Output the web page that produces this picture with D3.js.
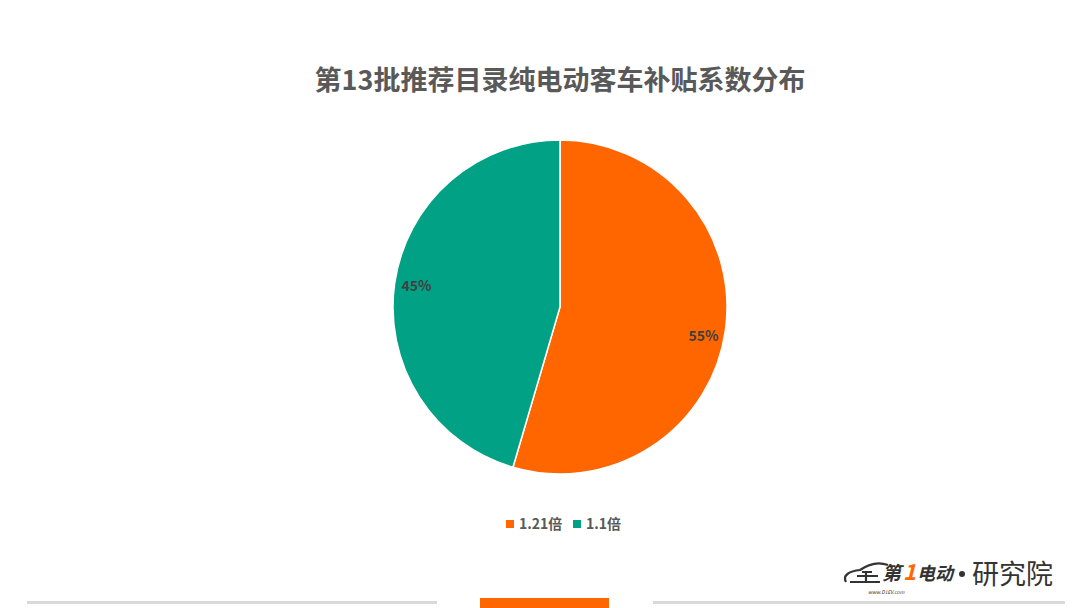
<!DOCTYPE html>
<html><head><meta charset="utf-8">
<script src="https://cdn.jsdelivr.net/npm/d3@7/dist/d3.min.js"></script>
<style>body{margin:0;background:#fff;}svg{display:block;}</style>
</head><body>
<svg id="c" width="1080" height="608"></svg>
<script>
const categories = ["1.21倍", "1.1倍"];
const values = [6, 5];
const colors = ["#FF6600", "#00A185"];
const title = "第13批推荐目录纯电动客车补贴系数分布";

const svg = d3.select("#c");
const font = "'Noto Sans CJK SC','Noto Sans',sans-serif";
const cx = 560, cy = 307, R = 167;

svg.append("text").attr("x", 560).attr("y", 90).attr("text-anchor", "middle")
  .attr("font-family", font).attr("font-weight", "bold").attr("font-size", 27)
  .attr("fill", "#595959").text(title);

const pie = d3.pie().sort(null).value(d => d)(values);
const arc = d3.arc().innerRadius(0).outerRadius(R);
const labelArc = d3.arc().innerRadius(145).outerRadius(145);
const total = d3.sum(values);
const g = svg.append("g").attr("transform", `translate(${cx},${cy})`);
g.selectAll("path").data(pie).join("path").attr("d", arc)
  .attr("fill", (d, i) => colors[i]).attr("stroke", "#fff").attr("stroke-width", 1.5);
g.selectAll("text").data(pie).join("text")
  .attr("transform", d => `translate(${labelArc.centroid(d)})`)
  .attr("text-anchor", "middle").attr("dy", (d, i) => i === 0 ? "0.95em" : "0.3em")
  .attr("font-family", font).attr("font-weight", "bold").attr("font-size", 14)
  .attr("fill", "#404040").text(d => Math.round(d.data / total * 100) + "%");

// legend
const legendX = [506, 573];
const lg = svg.append("g");
categories.forEach((c, i) => {
  lg.append("rect").attr("x", legendX[i]).attr("y", 520).attr("width", 8).attr("height", 8).attr("fill", colors[i]);
  lg.append("text").attr("x", legendX[i] + 13).attr("y", 529).attr("font-family", font)
    .attr("font-weight", "bold").attr("font-size", 14).attr("fill", "#595959").text(c);
});

// footer
svg.append("rect").attr("x", 27).attr("y", 601).attr("width", 410).attr("height", 3).attr("fill", "#d9d9d9");
svg.append("rect").attr("x", 653).attr("y", 601).attr("width", 412).attr("height", 3).attr("fill", "#d9d9d9");
svg.append("rect").attr("x", 480).attr("y", 598).attr("width", 129).attr("height", 10).attr("fill", "#FF6600");

// logo
const logo = svg.append("g");
logo.append("path").attr("d", "M846,582 C842,575 850,571 860,570 C870,563 880,562 888,565")
  .attr("fill", "none").attr("stroke", "#333").attr("stroke-width", 2.2);
logo.append("path").attr("d", "M857,576 L878,576 M862,572 L872,572 M866,571 L866,581 M850,582 L880,582")
  .attr("fill", "none").attr("stroke", "#333").attr("stroke-width", 2.2);
logo.append("text").attr("x", 882).attr("y", 580).attr("font-family", font).attr("font-weight", "bold")
  .attr("font-style", "italic").attr("font-size", 19).attr("fill", "#333").text("第");
logo.append("text").attr("x", 903).attr("y", 580).attr("font-family", font).attr("font-weight", "bold")
  .attr("font-style", "italic").attr("font-size", 22).attr("fill", "#FF6600").text("1");
logo.append("text").attr("x", 917).attr("y", 580).attr("font-family", font).attr("font-weight", "bold")
  .attr("font-style", "italic").attr("font-size", 18).attr("fill", "#333").text("电动");
logo.append("text").attr("x", 868).attr("y", 594).attr("font-family", font)
  .attr("font-style", "italic").attr("font-size", 5).attr("fill", "#333").text("www.D1EV.com");
logo.append("circle").attr("cx", 962).attr("cy", 574).attr("r", 3).attr("fill", "#333");
logo.append("text").attr("x", 972).attr("y", 584).attr("font-family", font)
  .attr("font-size", 27).attr("fill", "#333").text("研究院");
</script>
</body></html>
